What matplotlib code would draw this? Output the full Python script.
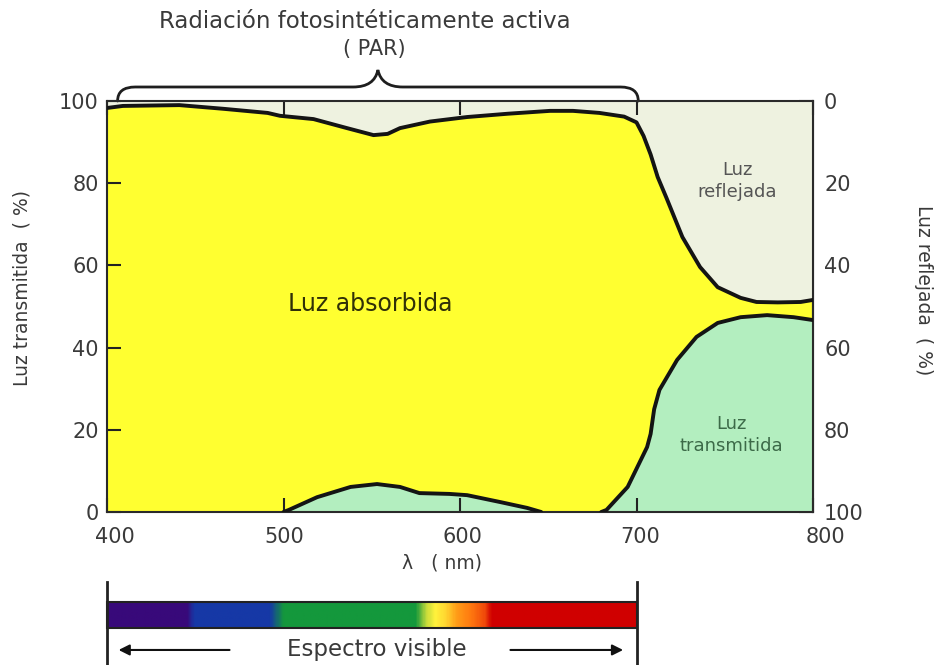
import numpy as np
import matplotlib
matplotlib.use("Agg")
import matplotlib.pyplot as plt
from matplotlib.path import Path
from matplotlib.patches import PathPatch, Rectangle
import matplotlib.transforms as mtransforms
from matplotlib.colors import LinearSegmentedColormap

# ---------------- data ----------------
# reflected light (%), read on the right (reversed) axis
refl_nm = [400, 409, 441, 466, 491, 498, 517, 536, 551, 559, 566, 583, 604, 627,
           651, 664, 679, 693, 700, 704, 708, 712, 717, 726, 736, 746, 759, 768, 780, 793, 800]
refl = [1.7, 1.2, 1.0, 1.9, 2.9, 3.6, 4.4, 6.6, 8.3, 8.0, 6.6, 5.0, 3.9, 3.1,
        2.4, 2.4, 2.9, 3.8, 5.2, 8.5, 13.0, 18.5, 23.6, 33.1, 40.4, 45.3, 47.9, 48.9, 49.0, 48.9, 48.4]

# transmitted light (%), read on the left axis
trans_nm = [400, 500, 503, 519, 538, 553, 566, 577, 594, 604, 623, 638, 646,
            680, 683, 695, 706, 708, 710, 713, 723, 734, 746, 759, 774, 789, 800]
trans = [0, 0, 0.5, 3.6, 6.1, 6.8, 6.1, 4.6, 4.4, 4.1, 2.4, 1.0, 0,
         0, 0.5, 6.1, 15.8, 19.0, 25.0, 29.7, 37.0, 42.6, 46.0, 47.4, 47.9, 47.4, 46.7]

x_ticks = [400, 500, 600, 700, 800]
y_ticks = [0, 20, 40, 60, 80, 100]
par_range = [400, 700]
visible_range = [400, 700]

# visible spectrum colour stops (nm, colour)
spec_nm = [400, 445, 449, 492, 500, 575, 581, 586, 592, 598, 606, 614, 618, 700]
spec_col = ['#38097a', '#38097a', '#1638a6', '#1638a6', '#14983c', '#14983c',
            '#c8dc3a', '#fff23c', '#ffd530', '#ff9d18', '#ff7a10', '#f04a0a',
            '#d00000', '#d00000']

# ---------------- styling ----------------
YELLOW = '#FFFF30'
BEIGE = '#EEF2E0'
GREEN = '#B3EEBF'
LINE = '#141414'
TXT = '#3a3a3a'
plt.rcParams['font.family'] = ['DejaVu Sans']

W, H = 934, 665
fig = plt.figure(figsize=(W / 100, H / 100), dpi=100)
ax = fig.add_axes([107 / W, 1 - 512 / H, 706 / W, 411 / H])

ax.set_facecolor(YELLOW)
refl_a = np.array(refl, dtype=float)
trans_a = np.array(trans, dtype=float)
ax.fill_between(refl_nm, 100 - refl_a, 100, color=BEIGE, lw=0)
ax.fill_between(trans_nm, 0, trans_a, color=GREEN, lw=0)
line_kw = dict(color=LINE, lw=2.8, solid_joinstyle='round', solid_capstyle='round', zorder=3)
ax.plot(refl_nm, 100 - refl_a, **line_kw)
ax.plot(trans_nm[1:13], trans_a[1:13], **line_kw)
ax.plot(trans_nm[13:], trans_a[13:], **line_kw)

ax.set_xlim(400, 800)
ax.set_ylim(0, 100)
ax.set_xticks(x_ticks)
ax.set_yticks(y_ticks)
ax.tick_params(direction='in', length=10, width=1.5, color='#222222',
               labelcolor=TXT, labelsize=15, top=True, right=False, pad=6)
ax.tick_params(axis='x', pad=11)
for s in ax.spines.values():
    s.set_color('#2a2a2a')
    s.set_linewidth(1.5)

# small horizontal nudges of the x tick labels (as in the reference)
label_dx = [8, 1, 2, 4, 12]
for lab, dx in zip(ax.get_xticklabels(), label_dx):
    lab.set_transform(lab.get_transform() +
                      mtransforms.ScaledTranslation(dx / 100, 0, fig.dpi_scale_trans))

sec = ax.secondary_yaxis('right', functions=(lambda y: 100 - y, lambda y: 100 - y))
sec.set_yticks(y_ticks)
sec.tick_params(direction='in', length=10, width=1.5, color='#222222',
                labelcolor=TXT, labelsize=15, pad=8)
sec.spines['right'].set_color('#2a2a2a')
sec.spines['right'].set_linewidth(1.5)

# region labels
ax.text(549, 50.5, 'Luz absorbida', ha='center', va='center', fontsize=17, color='#303008')
ax.text(757, 80.5, 'Luz\nreflejada', ha='center', va='center', fontsize=13,
        color='#555555', linespacing=1.25)
ax.text(754, 18.7, 'Luz\ntransmitida', ha='center', va='center', fontsize=13,
        color='#3c6a48', linespacing=1.25)

# axis labels
fig.text(22 / W, 1 - 288 / H, 'Luz transmitida  ( %)', rotation=90, ha='center',
         va='center', fontsize=13.5, color=TXT)
fig.text(923 / W, 1 - 290 / H, 'Luz reflejada  ( %)', rotation=270, ha='center',
         va='center', fontsize=13.5, color=TXT)
fig.text(442 / W, 1 - 563 / H, 'λ   ( nm)', ha='center', va='center',
         fontsize=13.5, color=TXT)

# title and brace
fig.text(365 / W, 1 - 21 / H, 'Radiación fotosintéticamente activa', ha='center',
         va='center', fontsize=16.5, color=TXT)
fig.text(374 / W, 1 - 49 / H, '( PAR)', ha='center', va='center', fontsize=15, color=TXT)

btr = mtransforms.blended_transform_factory(ax.transData, fig.transFigure)
y_low, y_mid, y_top = 1 - 101 / H, 1 - 87 / H, 1 - 70 / H
x0, x1 = par_range[0] + 6, par_range[1] + 1
xm = (x0 + x1) / 2
verts = [(x0, y_low), (x0, y_mid), (x0 + 10, y_mid), (xm - 14, y_mid),
         (xm - 2, y_mid), (xm, y_top), (xm + 2, y_mid), (xm + 14, y_mid),
         (x1 - 10, y_mid), (x1, y_mid), (x1, y_low)]
codes = [Path.MOVETO, Path.CURVE3, Path.CURVE3, Path.LINETO, Path.CURVE3, Path.CURVE3,
         Path.CURVE3, Path.CURVE3, Path.LINETO, Path.CURVE3, Path.CURVE3]
ax.add_patch(PathPatch(Path(verts, codes), fill=False, lw=2.0, ec='#1e1e1e',
                       transform=btr, clip_on=False, capstyle='round'))

# ---------------- visible spectrum bar ----------------
spec_ax = fig.add_axes([107 / W, 0, 706 / W, 90 / H])
spec_ax.set_xlim(400, 800)
spec_ax.set_ylim(0, 1)
spec_ax.axis('off')
pos = [(v - spec_nm[0]) / (spec_nm[-1] - spec_nm[0]) for v in spec_nm]
cmap = LinearSegmentedColormap.from_list('spec', list(zip(pos, spec_col)), N=512)
grad = np.linspace(0, 1, 600)[None, :]
bar_lo, bar_hi = 0.41, 0.70
spec_ax.imshow(grad, extent=(visible_range[0], visible_range[1], bar_lo, bar_hi),
               aspect='auto', cmap=cmap, interpolation='bilinear')
spec_ax.add_patch(Rectangle((visible_range[0], bar_lo), visible_range[1] - visible_range[0],
                            bar_hi - bar_lo, fill=False, ec='#222222', lw=1.5, clip_on=False))
for xv in visible_range:
    spec_ax.plot([xv, xv], [0, 0.925], color='#222222', lw=2, clip_on=False)
spec_ax.annotate('', xy=(405, 0.167), xytext=(471, 0.167),
                 arrowprops=dict(arrowstyle='-|>', lw=1.5, color='#111111', mutation_scale=16))
spec_ax.annotate('', xy=(694, 0.167), xytext=(627, 0.167),
                 arrowprops=dict(arrowstyle='-|>', lw=1.5, color='#111111', mutation_scale=16))
spec_ax.text(553, 0.167, 'Espectro visible', ha='center', va='center',
             fontsize=16.5, color=TXT)

fig.savefig('out.png', dpi=100)
